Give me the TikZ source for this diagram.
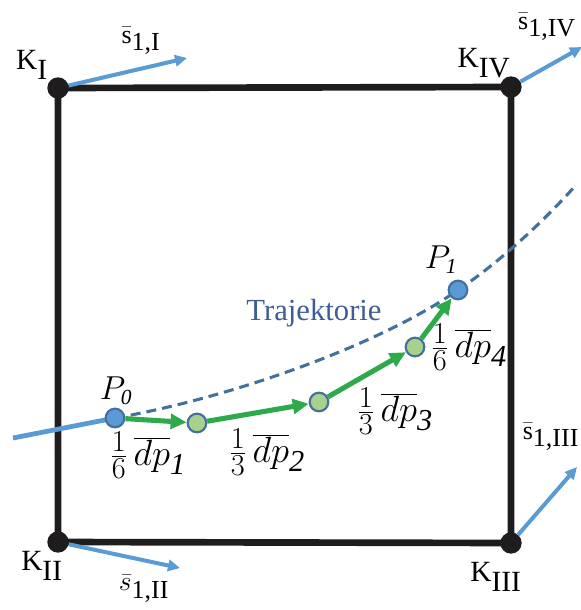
\documentclass[tikz,border=0pt]{standalone}
\usepackage{fontspec}
\setmainfont{Liberation Serif}
\usetikzlibrary{arrows.meta,backgrounds}

\definecolor{vecblue}{RGB}{91,155,213}
\definecolor{trajblue}{RGB}{65,113,156}
\definecolor{labelblue}{RGB}{62,92,150}
\definecolor{stepgreen}{RGB}{46,170,74}
\definecolor{midgreen}{RGB}{169,209,142}
\definecolor{cornerblack}{RGB}{30,28,28}

\begin{document}
\begin{tikzpicture}[x=0.75pt,y=-0.75pt,
    every node/.style={inner sep=0pt},
    corner/.style={circle,fill=cornerblack,minimum size=16pt},
    endpt/.style={circle,draw=trajblue,line width=1.6pt,fill=vecblue,minimum size=14pt},
    midpt/.style={circle,draw=trajblue,line width=1.6pt,fill=midgreen,minimum size=14pt},
    edge/.style={cornerblack,line width=5pt},
    vec/.style={vecblue,line width=3pt,-{Triangle[length=9pt,width=8.5pt]}},
    steparrow/.style={stepgreen,line width=3.8pt,-{Triangle[length=12pt,width=11pt]}},
    traj/.style={trajblue,line width=2.3pt,dash pattern=on 7.5pt off 4.5pt},
    klabel/.style={font=\fontsize{22}{26}\selectfont},
    slabel/.style={font=\fontsize{19.5}{24}\selectfont},
    plabel/.style={font=\fontsize{23}{27}\selectfont},
    fraclabel/.style={font=\fontsize{24.88}{30}\selectfont,scale=1.1}]

\useasboundingbox (0,0) rectangle (581,610);

%========================
% Square with corners
%========================

\node[corner] (kI)   at (58,88)  {};
\node[corner] (kIV)  at (511,87) {};
\node[corner] (kIII) at (511,543) {};
\node[corner] (kII)  at (58,542) {};

\begin{scope}[on background layer]
\draw[edge] (kI.center) -- (kIV.center) -- (kIII.center) -- (kII.center) -- cycle;
\end{scope}

% Corner labels
\node[klabel] (lI)   at (32,65)  {K$_{\textrm{I}}$};
\node[klabel] (lIV)  at (484,63) {K$_{\textrm{IV}}$};
\node[klabel] (lII)  at (42,566) {K$_{\textrm{II}}$};
\node[klabel] (lIII) at (496,577) {K$_{\textrm{III}}$};

% Corner vectors
\coordinate (tI)   at (187,58);
\coordinate (tIV)  at (582,47);
\coordinate (tII)  at (180,568);
\coordinate (tIII) at (577,467);

\draw[vec] (kI) -- (tI);
\draw[vec] (kIV) -- (tIV);
\draw[vec] (kII) -- (tII);
\draw[vec] (kIII) -- (tIII);

\node[slabel] (sI)   at (141,41)  {$\bar{\textrm{s}}_{\textrm{1,I}}$};
\node[slabel] (sIV)  at (547,27)  {$\bar{\textrm{s}}_{\textrm{1,IV}}$};
\node[slabel] (sII)  at (144,589) {$\bar{s}_{\textrm{1,II}}$};
\node[slabel] (sIII) at (551,437) {$\bar{\textrm{s}}_{\textrm{1,III}}$};

%========================
% Trajectory
%========================

\node[endpt] (p0) at (115,418) {};
\node[midpt] (m1) at (197,423) {};
\node[midpt] (m2) at (319,402) {};
\node[midpt] (m3) at (415,347) {};
\node[endpt] (p1) at (458,290) {};

\coordinate (in) at (13,438);
\coordinate (trajend) at (576,185);

\begin{scope}[on background layer]
\draw[vecblue,line width=3.6pt] (in) -- (p0.center);
\draw[traj] (p0.center) .. controls (230,398) and (380,345) .. (p1.center)
    .. controls (500,262) and (545,220) .. (trajend);
\end{scope}

% Steps
\draw[steparrow] (p0) -- (m1);
\draw[steparrow] (m1) -- (m2);
\draw[steparrow] (m2) -- (m3);
\draw[steparrow] (m3) -- (p1);

% Labels
\node[plabel] (lp0) at (116,391) {$P_{\mathit{0}}$};
\node[plabel] (lp1) at (441,260) {$P_{\mathit{1}}$};
\node[labelblue,font=\fontsize{23}{26}\selectfont] (ltraj) at (314,313) {Trajektorie};

\node[fraclabel] (f1) at (148,455) {$\frac{1}{6}\,\overline{dp}_{\mathit{1}}$};
\node[fraclabel] (f2) at (267,452) {$\frac{1}{3}\,\overline{dp}_{\mathit{2}}$};
\node[fraclabel] (f3) at (395,411) {$\frac{1}{3}\,\overline{dp}_{\mathit{3}}$};
\node[fraclabel] (f4) at (469,347) {$\frac{1}{6}\,\overline{dp}_{\mathit{4}}$};

\end{tikzpicture}
\end{document}
